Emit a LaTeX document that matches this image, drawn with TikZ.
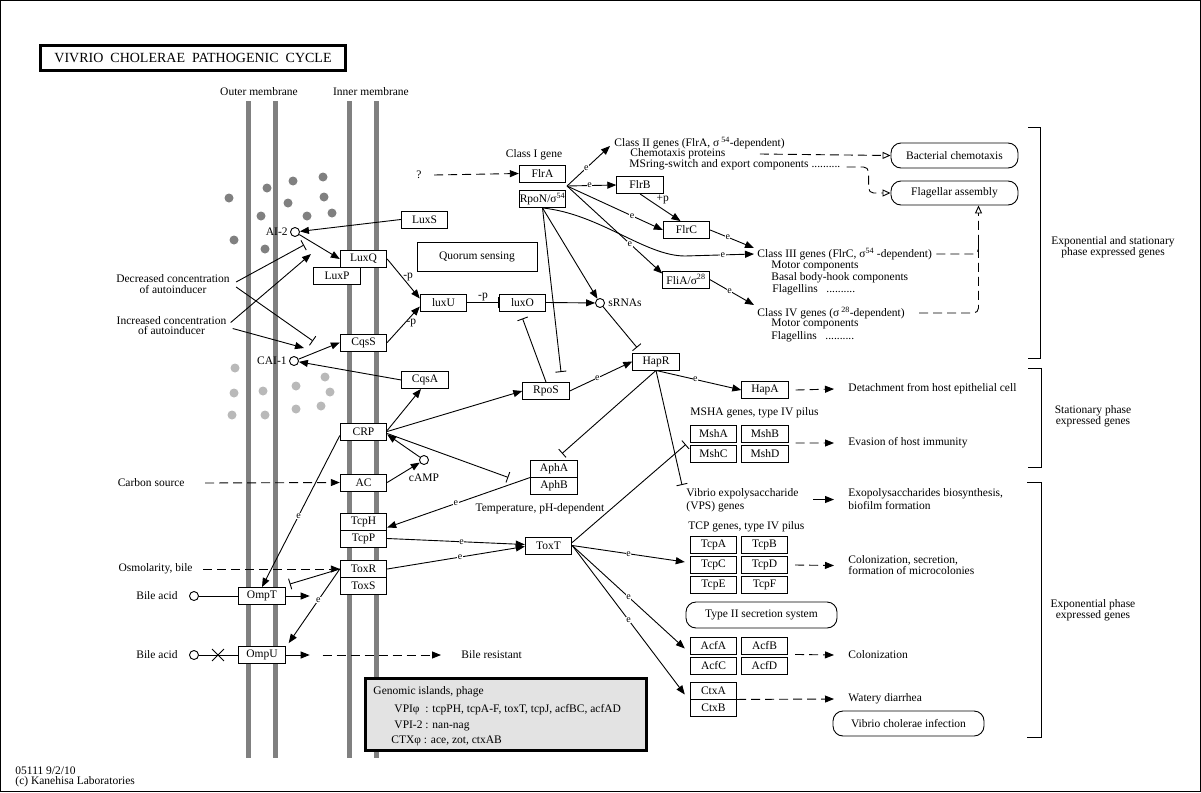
\documentclass[tikz,border=0pt]{standalone}
\usepackage{fontspec}
\setmainfont{Liberation Serif}
\usetikzlibrary{arrows.meta,positioning,calc,shapes.misc}

\tikzset{
	every node/.style={font=\fontsize{11.5}{11}\selectfont},
	gene/.style={draw, fill=white, minimum width=46.5pt, minimum height=17pt, inner sep=0pt},
	mol/.style={draw, circle, fill=white, minimum size=9pt, inner sep=0pt},
	pathmap/.style={draw, rounded corners=10pt, inner sep=0pt},
	txt/.style={inner sep=0pt, anchor=west},
	two/.style={inner sep=0pt, align=center},
	elab/.style={fill=white, inner sep=0.5pt, font=\fontsize{10}{10}\selectfont},
	act/.style={-{Triangle[length=9pt,width=7pt]}},
	inh/.style={-{Bar[width=11pt]}},
	ind/.style={dash pattern=on 9pt off 5pt, -{Triangle[length=9pt,width=7pt]}},
	dsh/.style={dash pattern=on 9pt off 5pt},
	toopen/.style={dash pattern=on 9pt off 5pt, -{Triangle[open,length=8pt,width=7pt]}},
	membrane/.style={line width=5pt, draw=gray},
}

\begin{document}
\begin{tikzpicture}[x=1pt,y=-1pt,line width=0.9pt]
	% Frame and title
	\useasboundingbox (0,0) rectangle (1201,792);
	\draw (0.5,0.5) rectangle (1200.5,791.5);
	\node[draw, line width=3pt, minimum width=305pt, minimum height=25pt, inner sep=0pt, font=\fontsize{14}{14}\selectfont] (title) at (193,58) {VIVRIO\ \ CHOLERAE\ \ PATHOGENIC\ \ CYCLE};
	
	% Draw membranes with labels
	\foreach \x in {248,275,349,376}
	\draw[membrane] (\x,101) -- (\x,758);
	\node (outer) at (259,92) {Outer membrane};
	\node (inner) at (371,92) {Inner membrane};
	
	% Draw autoinducer molecules
	\foreach \x/\y in {229/198,267/188,293/181,323/177,288/203,324/197,261/216,307/216,332/213,234/240,265/249}
	\fill[gray] (\x,\y) circle[radius=4.5pt];
	\foreach \x/\y in {235/368,234/393,263/391,296/386,325/377,330/392,296/409,321/406,232/415,265/415}
	\fill[gray!55] (\x,\y) circle[radius=4.5pt];
	
	% Quorum sensing
	\node[gene] (luxS) at (424.5,219.5) {LuxS};
	\node[gene] (luxQ) at (363.5,259) {LuxQ};
	\node[gene] (luxP) at (337,276) {LuxP};
	\node[gene] (cqsS) at (363.5,342.5) {CqsS};
	\node[gene] (cqsA) at (425,380) {CqsA};
	\node[gene] (luxU) at (443.5,302.5) {luxU};
	\node[gene] (luxO) at (522.5,302.5) {luxO};
	\node[draw, minimum width=120pt, minimum height=29pt, inner sep=0pt] (quorum) at (477,256.5) {Quorum sensing};
	\node[mol] (ai2) at (295,232) {};
	\node[mol] (cai1) at (294,361) {};
	\node[mol] (srna) at (600,303) {};
	\node[anchor=east, inner sep=1pt] (ai2lab) at ([xshift=-1pt]ai2.west) {AI-2};
	\node[anchor=east, inner sep=1pt] (cai1lab) at ([xshift=-1pt]cai1.west) {CAI-1};
	\node[txt] (srnalab) at (608,303) {sRNAs};
	\node[two, font=\fontsize{11.5}{10.5}\selectfont] (decr) at (173,284) {Decreased concentration\\of autoinducer};
	\node[two, font=\fontsize{11.5}{10.5}\selectfont] (incr) at (171.5,325.5) {Increased concentration\\of autoinducer};
	
	% Flagellar regulation
	\node[txt] (q) at (416,175) {?};
	\node (cls1) at (534,155) {Class I gene};
	\node[gene] (flrA) at (542.5,173.5) {FlrA};
	\node[gene] (rpoN) at (542.5,199) {RpoN/σ\textsuperscript{54}};
	\node[gene] (flrB) at (640,185) {FlrB};
	\node[gene] (flrC) at (686.5,230) {FlrC};
	\node[gene] (fliA) at (686,279.5) {FliA/σ\textsuperscript{28}};
	\coordinate (flrsplit) at (567,186);
	\node[txt] (cls2) at (614,143) {Class II genes (FlrA, σ\,\textsuperscript{54}-dependent)};
	\node[txt] (chemo) at (630,154) {Chemotaxis proteins};
	\node[txt] (msring) at (629,165) {MSring-switch and export components ..........};
	\node[txt] (cls3) at (757,254) {Class III genes (FlrC, σ\textsuperscript{54} -dependent)};
	\node[txt] (cls3a) at (771,266) {Motor components};
	\node[txt] (cls3b) at (771,278) {Basal body-hook components};
	\node[txt] (cls3c) at (772,290) {Flagellins\ \ \ ..........};
	\node[txt] (cls4) at (757,313) {Class IV genes (σ\,\textsuperscript{28}-dependent)};
	\node[txt] (cls4a) at (771,324) {Motor components};
	\node[txt] (cls4b) at (771,337) {Flagellins\ \ \ ..........};
	\node[pathmap, minimum width=127pt, minimum height=25pt] (bchemo) at (954.5,155.5) {Bacterial chemotaxis};
	\node[pathmap, minimum width=127pt, minimum height=24pt] (flag) at (954.5,193) {Flagellar assembly};
	\coordinate (flagin) at ([xshift=24pt]flag.south);
	
	% Virulence regulation
	\node[gene] (crp) at (363.5,431.5) {CRP};
	\node[gene] (ac) at (363.5,482.5) {AC};
	\node[mol] (camp) at (424,460) {};
	\node (camplab) at (424,478) {cAMP};
	\node[gene] (tcpH) at (363.5,521.5) {TcpH};
	\node[gene] (tcpP) at (363.5,538.5) {TcpP};
	\node[gene] (toxR) at (363.5,569) {ToxR};
	\node[gene] (toxS) at (363.5,586) {ToxS};
	\node[gene] (ompT) at (262,596) {OmpT};
	\node[gene] (ompU) at (262,655) {OmpU};
	\node[mol] (bileT) at (194,596) {};
	\node[mol] (bileU) at (194,655) {};
	\node[anchor=east, inner sep=0pt] (bileTlab) at (178,596) {Bile acid};
	\node[anchor=east, inner sep=0pt] (bileUlab) at (178,655) {Bile acid};
	\node[anchor=east, inner sep=0pt] (osmo) at (193,569) {Osmolarity, bile};
	\node[anchor=east, inner sep=0pt] (carbon) at (185,483) {Carbon source};
	\node[gene] (rpoS) at (546,391) {RpoS};
	\node[gene] (hapR) at (656,361.5) {HapR};
	\node[gene] (hapA) at (765,390) {HapA};
	\node[gene] (aphA) at (554,468.5) {AphA};
	\node[gene] (aphB) at (554,485.5) {AphB};
	\node (temp) at (540,509) {Temperature, pH-dependent};
	\node[gene] (toxT) at (548.5,545.5) {ToxT};
	
	% Target gene clusters
	\node[txt] (msha) at (690,413) {MSHA genes, type IV pilus};
	\foreach \n/\x/\y in {MshA/713.5/434,MshB/765/434,MshC/713.5/454,MshD/765/454,TcpA/713.5/545,TcpB/764.5/545,TcpC/713.5/565,TcpD/764.5/565,TcpE/713.5/585,TcpF/764.5/585,AcfA/713.5/645.5,AcfB/764.5/645.5,AcfC/713.5/665.5,AcfD/764.5/665.5,CtxA/713.5/690.5,CtxB/713.5/707.5}
	\node[gene] (\n) at (\x,\y) {\n};
	\node[txt, align=left, font=\fontsize{11.5}{13}\selectfont] (vps) at (686,500.5) {Vibrio expolysaccharide\\(VPS) genes};
	\coordinate (vpsbar) at (682,485);
	\node[txt] (tcpgenes) at (688,527) {TCP genes, type IV pilus};
	\node[pathmap, minimum width=151pt, minimum height=26pt] (t2ss) at (761.5,615) {Type II secretion system};
	\node[pathmap, minimum width=151pt, minimum height=25pt] (infect) at (908.5,723.5) {Vibrio cholerae infection};
	
	% Outcomes
	\node[txt] (detach) at (848,389) {Detachment from host epithelial cell};
	\node[txt] (evade) at (848,443) {Evasion of host immunity};
	\node[txt, align=left, font=\fontsize{11.5}{13}\selectfont] (exo) at (848,499.5) {Exopolysaccharides biosynthesis,\\biofilm formation};
	\node[txt, align=left, font=\fontsize{11.5}{11}\selectfont] (colsec) at (848,565.5) {Colonization, secretion,\\formation of microcolonies};
	\node[txt] (colon) at (848,655) {Colonization};
	\node[txt] (watery) at (848,699) {Watery diarrhea};
	\node[txt] (bileres) at (461,655) {Bile resistant};
	
	% Phase brackets
	\draw (1028,127) -| (1040,358) -- (1028,358);
	\draw (1028,368) -| (1041,467) -- (1028,467);
	\draw (1027,482) -| (1041,737) -- (1027,737);
	\node[two, font=\fontsize{11.5}{10.5}\selectfont] (expstat) at (1113,247) {Exponential and stationary\\phase expressed genes};
	\node[two, font=\fontsize{11.5}{10.5}\selectfont] (stat) at (1093,416) {Stationary phase\\expressed genes};
	\node[two, font=\fontsize{11.5}{11}\selectfont] (expo) at (1093,610.5) {Exponential phase\\expressed genes};
	
	% Genomic islands box
	\node[draw, line width=3pt, fill=gray!22, minimum width=281pt, minimum height=72pt, inner sep=0pt] (genomic) at (506,714.5) {};
	\node[txt] (gen1) at (373,692) {Genomic islands, phage};
	\node[txt] (gen2) at (394,710) {VPIφ\ \ : tcpPH, tcpA-F, toxT, tcpJ, acfBC, acfAD};
	\node[txt] (gen3) at (394,726) {VPI-2 : nan-nag};
	\node[txt] (gen4) at (391,741) {CTXφ : ace, zot, ctxAB};
	
	% Footer
	\node[txt] (mapid) at (15,771) {05111 9/2/10};
	\node[txt] (copy) at (15,782) {(c) Kanehisa Laboratories};
	
	% Quorum sensing connectors
	\draw[act] (luxS.west) -- (ai2);
	\draw[act] (ai2) -- (luxQ.west);
	\draw[act] (cqsA.west) -- (cai1);
	\draw[act] (cai1) -- (cqsS.west);
	\draw[act] (luxQ.east) -- node[pos=0.45, right, inner sep=1pt] {-p} ([yshift=4pt]luxU.west);
	\draw[act] (cqsS.east) -- node[pos=0.55, right, inner sep=1pt] {-p} ([yshift=-4pt]luxU.west);
	\draw[inh] (luxU.east) -- node[above, inner sep=1pt] {-p} (luxO.west);
	\draw[act] (luxO.east) -- (srna);
	\draw[inh] ([shift={(6,-2)}]decr.east) -- ([shift={(9,13)}]ai2.center);
	\draw[inh] ([shift={(6,3)}]decr.east) -- ([shift={(19,-20)}]cai1.center);
	\draw[act] ([shift={(4,-3)}]incr.east) -- ([shift={(16,22)}]ai2.center);
	\draw[act] ([shift={(6,3)}]incr.east) -- ([shift={(10,-13)}]cai1.center);
	
	% Flagellar connectors
	\draw[ind] ([xshift=12pt]q.east) -- (flrA.west);
	\draw[act] (flrsplit) -- node[elab, pos=0.45] {e} ([shift={(-4,3)}]cls2.west);
	\draw[act] (flrsplit) -- node[elab, pos=0.46] {e} (flrB.west);
	\draw[act] (flrsplit) -- node[elab, pos=0.68] {e} (flrC.west);
	\draw[act] (flrsplit) -- node[elab, pos=0.66] {e} ([yshift=-3pt]fliA.north west);
	\draw[act] (rpoN.south) .. controls (600,214) and (645,256) .. (685,256) -- node[elab, pos=0.55] {e} ([xshift=-3pt]cls3.west);
	\draw[act] (flrB.south) -- node[pos=0.4, above right, inner sep=0pt] {+p} ([xshift=-6pt]flrC.north);
	\draw[act] (flrC.east) -- node[elab, pos=0.4] {e} ([shift={(-3,-6)}]cls3.west);
	\draw[act] (fliA.east) -- node[elab, pos=0.45] {e} ([shift={(-3,-8)}]cls4.west);
	\draw[act] (rpoN.south) -- (srna);
	\draw[inh] (rpoN.south) -- ([shift={(15,-10)}]rpoS.north);
	\draw[toopen] ([xshift=34pt]chemo.east) -- (bchemo.west);
	\draw[toopen, rounded corners=5pt] ([shift={(6,2)}]msring.east) -| ([xshift=-22pt]flag.west) -- (flag.west);
	\draw[toopen, rounded corners=5pt] ([xshift=14pt]cls4.east) -| (flagin);
	\draw[dsh, rounded corners=5pt] ([xshift=4pt]cls3.east) -| ($(flagin |- cls3.east)+(0,-14)$);
	
	% Virulence connectors
	\draw[act] (rpoS.east) -- node[elab, pos=0.44] {e} (hapR.west);
	\draw[inh] (rpoS.north) -- ([yshift=-7pt]luxO.south);
	\draw[inh] (srna) -- ([shift={(-19,-5)}]hapR.north);
	\draw[act] (hapR.south) -- node[elab, pos=0.46] {e} (hapA.west);
	\draw[inh] (hapR.south) -- ([shift={(8,-6)}]aphA.north);
	\draw[inh] (hapR.south) -- (vpsbar);
	\draw[act] ([yshift=1pt]crp.east) -- ([xshift=-4pt]cqsA.south);
	\draw[act] (crp.east) -- (rpoS.west);
	\draw[act] (camp) -- ([yshift=-3pt]crp.east);
	\draw[act] (ac.east) -- (camp);
	\draw[inh] ([yshift=-2pt]crp.east) -- ([xshift=-22pt]aphA.south west);
	\draw[act] (aphA.south west) -- node[elab, pos=0.52] {e} ([yshift=-6pt]tcpH.east);
	\draw[act] (tcpP.east) -- node[elab, pos=0.54] {e} ([yshift=1pt]toxT.west);
	\draw[act] (toxR.east) -- node[elab, pos=0.53] {e} ([yshift=-1pt]toxT.west);
	\draw[act] (toxT.east) -- node[elab, pos=0.5] {e} ([shift={(-5,-3)}]TcpC.west);
	\draw[act] (toxT.east) -- node[elab, pos=0.5] {e} ([shift={(-5,3)}]AcfA.west);
	\draw[act] (toxT.east) -- node[elab, pos=0.5] {e} ([shift={(-5,4)}]CtxA.west);
	\draw[inh] ([yshift=3pt]toxT.east) -- ([shift={(-4,1.5)}]MshA.south west);
	\draw[ind] ([xshift=20pt]carbon.east) -- (ac.west);
	\draw[ind] ([xshift=10pt]osmo.east) -- (toxR.west);
	\draw[inh] (toxR.west) -- ([shift={(4,-3)}]ompT.north east);
	\draw[act] (toxR.west) -- node[elab, pos=0.42] {e} ([shift={(3,-3)}]ompU.north east);
	\draw[act] ([yshift=-4pt]crp.west) -- node[elab, pos=0.53] {e} (ompT.north);
	\draw (bileT) -- (ompT.west);
	\draw[act] (ompT.east) -- ([xshift=24pt]ompT.east);
	\draw (bileU) -- (ompU.west);
	\node[draw, cross out, minimum size=11pt, inner sep=0pt] (blockU) at (218,655) {};
	\draw[act] (ompU.east) -- ([xshift=24pt]ompU.east);
	\draw[ind] ([xshift=37pt]ompU.east) -- ([xshift=-20pt]bileres.west);
	
	% Outcome connectors
	\draw[ind] ([xshift=7pt]hapA.east) -- ([xshift=-14pt]detach.west);
	\draw[ind] ([xshift=7pt]MshB.south east) -- ([xshift=-14pt]evade.west);
	\draw[act] ([xshift=-35pt]exo.west) -- ([xshift=-14pt]exo.west);
	\draw[ind] ([xshift=7pt]TcpD.east) -- ([xshift=-14pt]colsec.west);
	\draw[ind] ([xshift=7pt]AcfB.south east) -- ([xshift=-14pt]colon.west);
	\draw[ind] (CtxA.south east) -- ([xshift=-14pt]watery.west);
\end{tikzpicture}
\end{document}
